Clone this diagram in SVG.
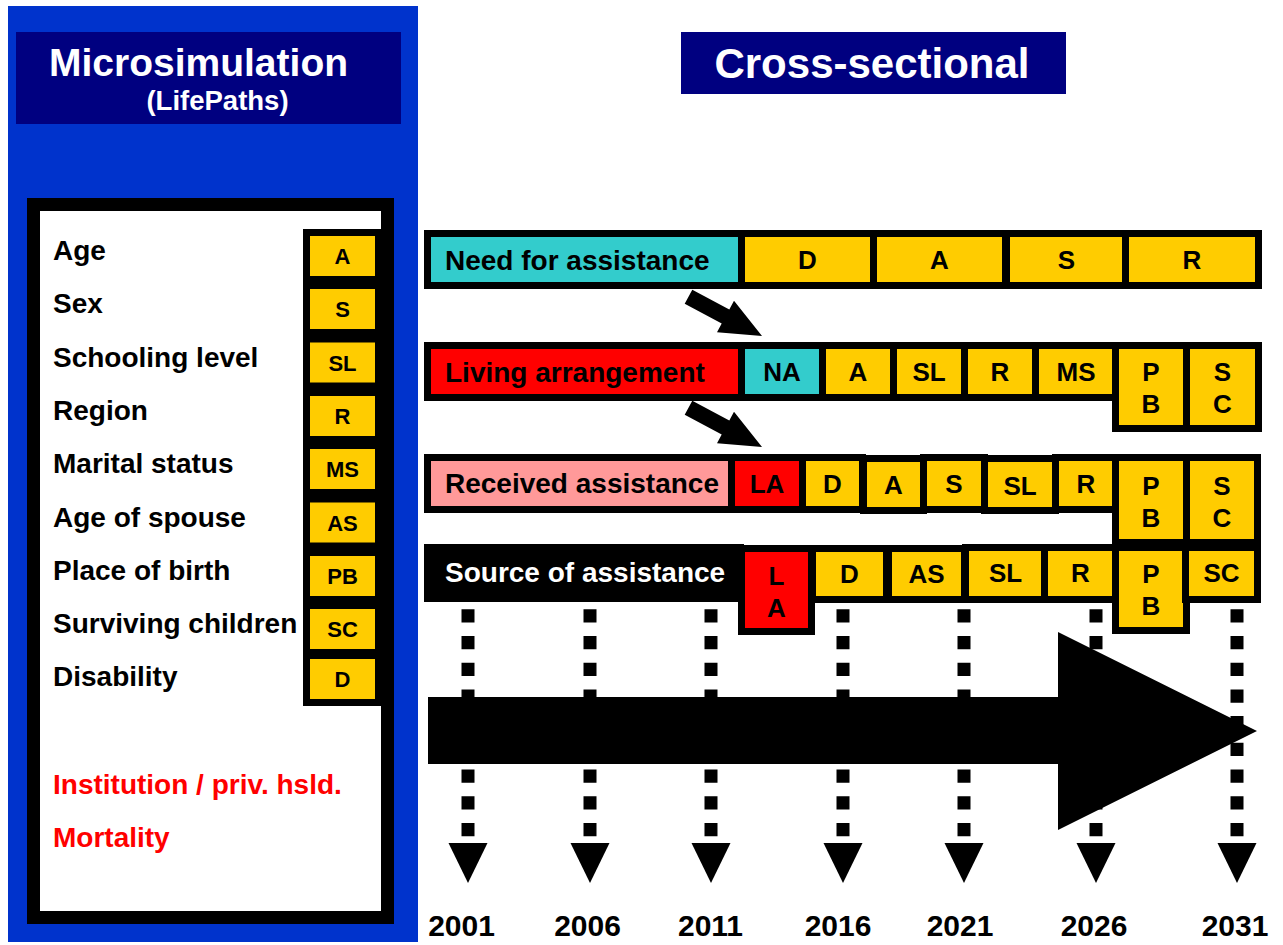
<svg xmlns="http://www.w3.org/2000/svg" width="1283" height="945" viewBox="0 0 1283 945">
<defs>
<style>
text{font-family:"Liberation Sans",Arial,Helvetica,sans-serif;font-weight:bold;}
.lbl{font-size:28px;fill:#000;}
.red{font-size:28px;fill:#FF0000;}
.bdg{font-size:22px;fill:#000;text-anchor:middle;}
.cell{font-size:26px;fill:#000;text-anchor:middle;}
.yr{font-size:30px;fill:#000;text-anchor:middle;}
.c{stroke:#000;stroke-width:7;}
.y{fill:#FFCC00;}
.cy{fill:#33CCCC;}
.r{fill:#FF0000;}
.p{fill:#FF9999;}
.dot{stroke:#000;stroke-width:13;stroke-dasharray:13.3 13.4;}
</style>
</defs>
<rect width="1283" height="945" fill="#FFFFFF"/>

<g id="left-panel">
<rect x="8" y="6" width="410" height="936" fill="#0033CC"/>
<rect x="16" y="32" width="385" height="92" fill="#000080"/>
<text x="49" y="76" font-size="39" fill="#FFFFFF">Microsimulation</text>
<text x="217.5" y="110" font-size="27.5" fill="#FFFFFF" text-anchor="middle">(LifePaths)</text>
<rect x="33.5" y="204.5" width="354" height="713" fill="#FFFFFF" stroke="#000" stroke-width="13"/>
<rect x="303" y="229" width="78" height="477" fill="#000"/>
</g>

<g id="attr-age"><text class="lbl" x="53" y="260">Age</text><rect class="y" x="310" y="236" width="65" height="40"/><text class="bdg" x="342.5" y="264">A</text></g>
<g id="attr-sex"><text class="lbl" x="53" y="313">Sex</text><rect class="y" x="310" y="289" width="65" height="40"/><text class="bdg" x="342.5" y="317">S</text></g>
<g id="attr-schooling"><text class="lbl" x="53" y="367">Schooling level</text><rect class="y" x="310" y="342.5" width="65" height="40"/><text class="bdg" x="342.5" y="370.5">SL</text></g>
<g id="attr-region"><text class="lbl" x="53" y="420">Region</text><rect class="y" x="310" y="396" width="65" height="40"/><text class="bdg" x="342.5" y="424">R</text></g>
<g id="attr-marital"><text class="lbl" x="53" y="473">Marital status</text><rect class="y" x="310" y="449" width="65" height="40"/><text class="bdg" x="342.5" y="477">MS</text></g>
<g id="attr-spouse"><text class="lbl" x="53" y="527">Age of spouse</text><rect class="y" x="310" y="502.5" width="65" height="40"/><text class="bdg" x="342.5" y="530.5">AS</text></g>
<g id="attr-birth"><text class="lbl" x="53" y="580">Place of birth</text><rect class="y" x="310" y="556" width="65" height="40"/><text class="bdg" x="342.5" y="584">PB</text></g>
<g id="attr-children"><text class="lbl" x="53" y="633">Surviving children</text><rect class="y" x="310" y="609" width="65" height="40"/><text class="bdg" x="342.5" y="637">SC</text></g>
<g id="attr-disability"><text class="lbl" x="53" y="686">Disability</text><rect class="y" x="310" y="659" width="65" height="40"/><text class="bdg" x="342.5" y="687">D</text></g>
<g id="attr-institution"><text class="red" x="53" y="794">Institution / priv. hsld.</text></g>
<g id="attr-mortality"><text class="red" x="53" y="847">Mortality</text></g>

<g id="title-cross">
<rect x="681" y="32" width="385" height="62" fill="#000080"/>
<text x="872" y="78" font-size="42" fill="#FFFFFF" text-anchor="middle">Cross-sectional</text>
</g>

<g id="connectors">
<line class="dot" x1="468" y1="609.3" x2="468" y2="836.5"/>
<line class="dot" x1="590" y1="609.3" x2="590" y2="836.5"/>
<line class="dot" x1="711" y1="609.3" x2="711" y2="836.5"/>
<line class="dot" x1="843" y1="609.3" x2="843" y2="836.5"/>
<line class="dot" x1="964" y1="609.3" x2="964" y2="836.5"/>
<line class="dot" x1="1096" y1="609.3" x2="1096" y2="836.5"/>
<line class="dot" x1="1237" y1="609.3" x2="1237" y2="836.5"/>
<polygon points="448.5,843 487.5,843 468,883"/>
<polygon points="570.5,843 609.5,843 590,883"/>
<polygon points="691.5,843 730.5,843 711,883"/>
<polygon points="823.5,843 862.5,843 843,883"/>
<polygon points="944.5,843 983.5,843 964,883"/>
<polygon points="1076.5,843 1115.5,843 1096,883"/>
<polygon points="1217.5,843 1256.5,843 1237,883"/>
<polygon points="428,697 1058,697 1058,632 1257,731 1058,830 1058,764 428,764" fill="#000"/>
<polygon points="692.3,289.8 729.3,309.5 734,300.7 762,336 717,332.3 721.7,323.5 684.7,303.8" fill="#000"/>
<polygon points="692.3,400.8 729.3,420.5 734,411.7 762,447 717,443.3 721.7,434.5 684.7,414.8" fill="#000"/>
</g>

<g id="row-need">
<rect class="c cy" x="427.5" y="233.5" width="314" height="52"/>
<rect class="c y" x="741.5" y="233.5" width="132" height="52"/>
<rect class="c y" x="873.5" y="233.5" width="132" height="52"/>
<rect class="c y" x="1006.5" y="233.5" width="120" height="52"/>
<rect class="c y" x="1125.5" y="233.5" width="133" height="52"/>
<text class="lbl" x="445" y="270">Need for assistance</text>
<text class="cell" x="807.5" y="269">D</text>
<text class="cell" x="939.5" y="269">A</text>
<text class="cell" x="1066.5" y="269">S</text>
<text class="cell" x="1192" y="269">R</text>
</g>

<g id="row-living">
<rect class="c r" x="427.5" y="345.5" width="314" height="52"/>
<rect class="c cy" x="741.5" y="345.5" width="81" height="52"/>
<rect class="c y" x="822.5" y="345.5" width="71" height="52"/>
<rect class="c y" x="893.5" y="345.5" width="71" height="52"/>
<rect class="c y" x="964.5" y="345.5" width="71" height="52"/>
<rect class="c y" x="1035.5" y="345.5" width="81" height="52"/>
<rect class="c y" x="1115.5" y="345.5" width="71" height="83"/>
<rect class="c y" x="1186.5" y="345.5" width="72" height="83"/>
<text class="lbl" x="445" y="382">Living arrangement</text>
<text class="cell" x="782" y="381">NA</text>
<text class="cell" x="858" y="381">A</text>
<text class="cell" x="929" y="381">SL</text>
<text class="cell" x="1000" y="381">R</text>
<text class="cell" x="1076" y="381">MS</text>
<text class="cell" x="1151" y="381">P</text>
<text class="cell" x="1151" y="413">B</text>
<text class="cell" x="1222.5" y="381">S</text>
<text class="cell" x="1222.5" y="413">C</text>
</g>

<g id="row-received">
<rect class="c p" x="427.5" y="457.5" width="304" height="52"/>
<rect class="c r" x="731.5" y="457.5" width="71" height="52"/>
<rect class="c y" x="802.5" y="457.5" width="60" height="52"/>
<rect class="c y" x="863.5" y="458.5" width="60" height="52"/>
<rect class="c y" x="923.5" y="457.5" width="61" height="52"/>
<rect class="c y" x="984.5" y="458.5" width="71" height="52"/>
<rect class="c y" x="1055.5" y="457.5" width="61" height="52"/>
<rect class="c y" x="1115.5" y="457.5" width="71" height="85"/>
<rect class="c y" x="1186.5" y="457.5" width="71" height="85"/>
<text class="lbl" x="445" y="493">Received assistance</text>
<text class="cell" x="767" y="493">LA</text>
<text class="cell" x="832.5" y="493">D</text>
<text class="cell" x="893.5" y="494">A</text>
<text class="cell" x="954" y="493">S</text>
<text class="cell" x="1020" y="495">SL</text>
<text class="cell" x="1086" y="493">R</text>
<text class="cell" x="1151" y="495">P</text>
<text class="cell" x="1151" y="527">B</text>
<text class="cell" x="1222" y="495">S</text>
<text class="cell" x="1222" y="527">C</text>
</g>

<g id="row-source">
<rect x="424" y="544" width="320" height="58" fill="#000"/>
<rect class="c r" x="741.5" y="548.5" width="70" height="83"/>
<rect class="c y" x="812.5" y="548.5" width="74" height="51"/>
<rect class="c y" x="888.5" y="548.5" width="76" height="51"/>
<rect class="c y" x="965.5" y="547.5" width="80" height="52"/>
<rect class="c y" x="1044.5" y="547.5" width="72" height="52"/>
<rect class="c y" x="1115.5" y="547.5" width="71" height="83"/>
<rect class="c y" x="1185.5" y="547.5" width="72" height="52"/>
<text class="lbl" x="445" y="582" style="fill:#FFFFFF">Source of assistance</text>
<text class="cell" x="776.5" y="585">L</text>
<text class="cell" x="776.5" y="617">A</text>
<text class="cell" x="849.5" y="583">D</text>
<text class="cell" x="926.5" y="583">AS</text>
<text class="cell" x="1005.5" y="582">SL</text>
<text class="cell" x="1080.5" y="582">R</text>
<text class="cell" x="1151" y="583">P</text>
<text class="cell" x="1151" y="615">B</text>
<text class="cell" x="1221.5" y="582">SC</text>
</g>

<g id="years">
<text class="yr" x="461.5" y="936">2001</text>
<text class="yr" x="587.5" y="936">2006</text>
<text class="yr" x="710.5" y="936">2011</text>
<text class="yr" x="838" y="936">2016</text>
<text class="yr" x="960" y="936">2021</text>
<text class="yr" x="1094" y="936">2026</text>
<text class="yr" x="1235" y="936">2031</text>
</g>
</svg>
